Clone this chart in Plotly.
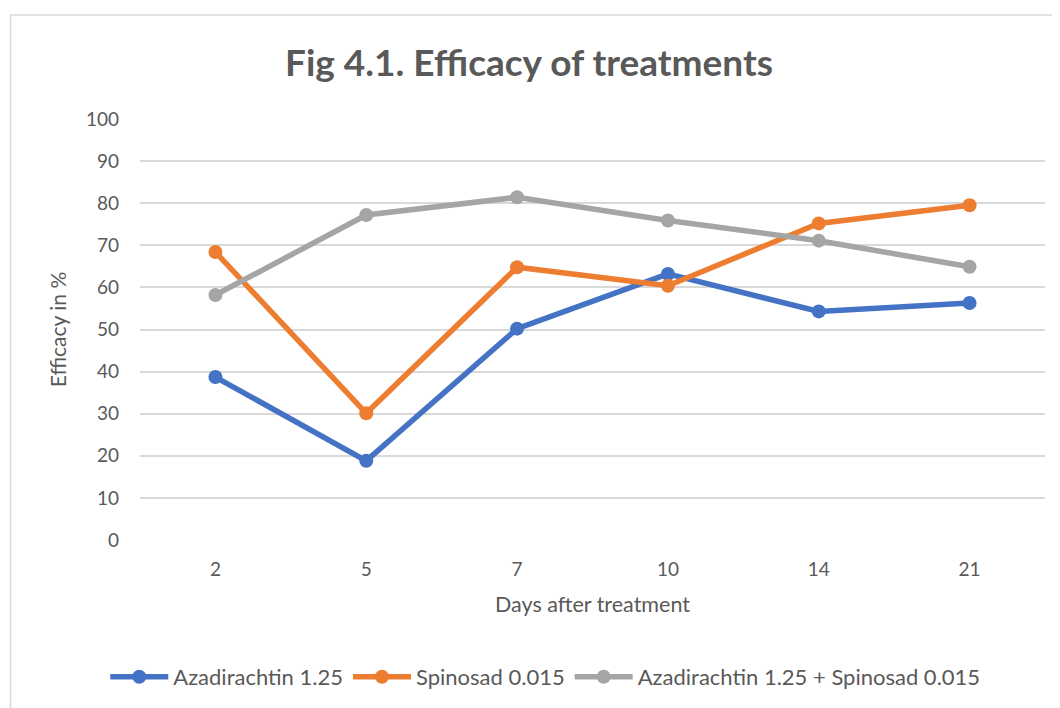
import plotly.graph_objects as go

days = ["2", "5", "7", "10", "14", "21"]
azadirachtin = [38.7, 18.8, 50.2, 63.2, 54.3, 56.3]
spinosad = [68.4, 30.1, 64.8, 60.4, 75.2, 79.5]
combo = [58.2, 77.2, 81.4, 75.9, 71.1, 64.9]
series_names = ["Azadirachtin 1.25", "Spinosad 0.015", "Azadirachtin 1.25 + Spinosad 0.015"]
colors = ["#4472C4", "#ED7D31", "#A5A5A5"]
y_ticks = list(range(0, 101, 10))

# page has an 8px default body margin; work in reference pixels and shift
O = 8
W, H = 1060 - O, 708 - O
PL, PR, PT, PB = 139.5, 1045, 119, 540  # plot area in reference pixels
L, R, T, B = PL - O, W - (PR - O), PT - O, H - (PB - O)
pw, ph = PR - PL, PB - PT

def px_x(p):
    return (p - PL) / pw

def px_y(p):
    return (PB - p) / ph

FONT = "Lato"
TXT = "#595959"

fig = go.Figure()
for name, vals, col in zip(series_names, [azadirachtin, spinosad, combo], colors):
    fig.add_trace(go.Scatter(
        x=days, y=vals, name=name, mode="lines+markers",
        line=dict(color=col, width=5.5),
        marker=dict(color=col, size=14),
    ))

fig.update_layout(
    width=W, height=H,
    margin=dict(l=L, r=R, t=T, b=B, autoexpand=False),
    paper_bgcolor="white", plot_bgcolor="white",
    font=dict(family=FONT, color=TXT, size=19),
    title=dict(text="<b>Fig 4.1. Efficacy of treatments</b>", x=(529 - O) / W,
               xref="container", xanchor="center", y=1 - (63 - O) / H, yref="container", yanchor="middle",
               font=dict(family=FONT, size=37, color=TXT)),
    showlegend=True,
    legend=dict(orientation="h", x=px_x(545), xanchor="center", y=px_y(677), yanchor="middle",
                font=dict(family=FONT, size=22, color=TXT), itemwidth=58,
                bgcolor="rgba(0,0,0,0)"),
    shapes=[dict(type="rect", xref="paper", yref="paper",
                 x0=px_x(10), x1=px_x(1085), y0=px_y(735), y1=px_y(15),
                 line=dict(color="#d9d9d9", width=1.5), layer="below")],
)

fig.update_xaxes(type="category", range=[-0.5, 5.5], showgrid=False, showline=False, zeroline=False,
                 ticks="", ticklabelstandoff=16,
                 tickfont=dict(family=FONT, size=19, color=TXT),
                 title=dict(text="Days after treatment", standoff=17,
                            font=dict(family=FONT, size=21.5, color=TXT)))
fig.update_yaxes(range=[0, 100], tickvals=y_ticks, showgrid=True, gridcolor="#d9d9d9", gridwidth=1.5,
                 zeroline=False, showline=False, ticks="", ticklabelstandoff=20,
                 tickfont=dict(family=FONT, size=19, color=TXT),
                 title=dict(text="Efficacy in %", standoff=13,
                            font=dict(family=FONT, size=21, color=TXT)))

fig.write_html("out.html")
